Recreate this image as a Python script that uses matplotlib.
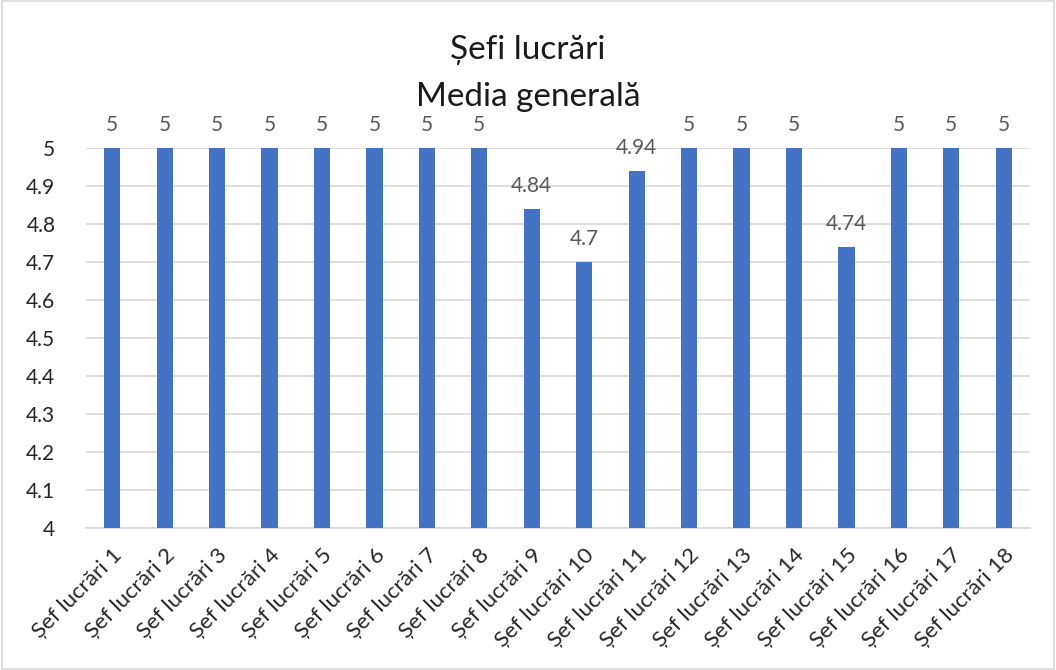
import matplotlib
matplotlib.use("Agg")
import matplotlib.pyplot as plt
from matplotlib.patches import Rectangle

plt.rcParams['font.family'] = ['Lato', 'DejaVu Sans']

categories = ["Șef lucrări %d" % i for i in range(1, 19)]
values = [5, 5, 5, 5, 5, 5, 5, 5, 4.84, 4.7, 4.94, 5, 5, 5, 4.74, 5, 5, 5]
yticks = [4, 4.1, 4.2, 4.3, 4.4, 4.5, 4.6, 4.7, 4.8, 4.9, 5]

fig = plt.figure(figsize=(10.56, 6.70), dpi=100)
fig.patches.append(Rectangle((0.002, 0.002), 0.996, 0.996, transform=fig.transFigure,
                             fill=False, edgecolor='#D9D9D9', linewidth=1.2))
ax = fig.add_axes([0.0814, 0.212, 0.894, 0.567])

x = list(range(len(categories)))
bars = ax.bar(x, values, width=0.31, color='#4472C4', zorder=3)
for xi, v in zip(x, values):
    ax.text(xi, v + 0.035, ('%g' % v), ha='center', va='bottom', fontsize=15, color='#595959')

ax.set_ylim(4, 5)
ax.set_xlim(-0.5, len(categories) - 0.5)
ax.set_yticks(yticks)
ax.set_yticklabels(['%g' % t for t in yticks], fontsize=15, color='#262626')
ax.set_xticks(x)
ax.set_xticklabels(categories, rotation=45, ha='right', rotation_mode='anchor',
                   fontsize=16, color='#262626')
ax.tick_params(axis='y', length=0, pad=22)
ax.tick_params(axis='x', length=0, pad=12)
ax.grid(axis='y', color='#D9D9D9', linewidth=1.2, zorder=0)
for s in ['top', 'right', 'left']:
    ax.spines[s].set_visible(False)
ax.spines['bottom'].set_color('#D9D9D9')
ax.spines['bottom'].set_linewidth(1.2)

fig.text(0.5, 0.925, "Șefi lucrări", ha='center', va='center', fontsize=24, color='#1a1a1a')
fig.text(0.5, 0.855, "Media generală", ha='center', va='center', fontsize=24, color='#1a1a1a')

fig.savefig("out.png", dpi=100)
